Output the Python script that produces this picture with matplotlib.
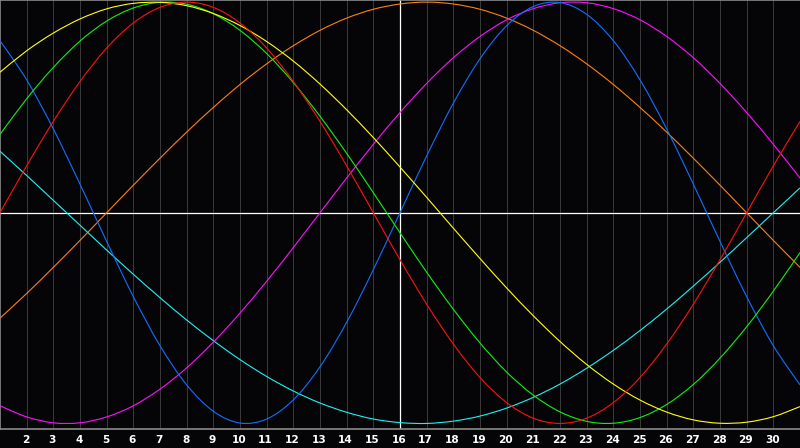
import matplotlib
matplotlib.use("Agg")
import matplotlib.pyplot as plt
import matplotlib.transforms as mtransforms
from matplotlib.path import Path
from matplotlib.patches import PathPatch

# days of the month
days = list(range(1, 32))

# cycle values per day (percent)
physical = [81.7, 63.1, 39.8, 13.6, -13.6, -39.8, -63.1, -81.7, -94.2, -99.8, -97.9,
            -88.8, -73.1, -52.0, -27.0, 0, 27.0, 52.0, 73.1, 88.8, 97.9, 99.8, 94.2,
            81.7, 63.1, 39.8, 13.6, -13.6, -39.8, -63.1, -81.7]
emotional = [0, 22.3, 43.4, 62.3, 78.2, 90.1, 97.5, 100, 97.5, 90.1, 78.2, 62.3, 43.4,
             22.3, 0, -22.3, -43.4, -62.3, -78.2, -90.1, -97.5, -100, -97.5, -90.1,
             -78.2, -62.3, -43.4, -22.3, 0, 22.3, 43.4]
intellectual = [37.2, 54.1, 69.0, 81.5, 91.0, 97.2, 99.9, 99.0, 94.5, 86.6, 75.6, 61.8,
                45.8, 28.2, 9.5, -9.5, -28.2, -45.8, -61.8, -75.6, -86.6, -94.5, -99.0,
                -99.9, -97.2, -91.0, -81.5, -69.0, -54.1, -37.2, -18.9]
intuitive = [-91.6, -96.9, -99.7, -99.7, -96.9, -91.6, -83.7, -73.6, -61.4, -47.6,
             -32.5, -16.5, 0, 16.5, 32.5, 47.6, 61.4, 73.6, 83.7, 91.6, 96.9, 99.7,
             99.7, 96.9, 91.6, 83.7, 73.6, 61.4, 47.6, 32.5, 16.5]
aesthetic = [66.7, 76.9, 85.3, 92.0, 96.8, 99.4, 99.9, 98.3, 94.6, 88.9, 81.3, 72.0,
             61.1, 48.9, 35.7, 21.7, 7.3, -7.3, -21.7, -35.7, -48.9, -61.1, -72.0,
             -81.3, -88.9, -94.6, -98.3, -99.9, -99.4, -96.8, -92.0]
awareness = [-50, -38.3, -25.9, -13.1, 0, 13.1, 25.9, 38.3, 50, 60.9, 70.7, 79.3, 86.6,
             92.4, 96.6, 99.1, 100, 99.1, 96.6, 92.4, 86.6, 79.3, 70.7, 60.9, 50, 38.3,
             25.9, 13.1, 0, -13.1, -25.9]
spiritual = [29.2, 17.7, 5.9, -5.9, -17.7, -29.2, -40.3, -50.9, -60.7, -69.7, -77.7,
             -84.6, -90.3, -94.7, -97.9, -99.6, -100.0, -98.9, -96.5, -92.7, -87.6,
             -81.3, -73.8, -65.3, -55.9, -45.7, -34.8, -23.5, -11.8, 0, 11.8]

today = 16
tick_days = list(range(2, 31))


def smooth_line(ax, xs, ys, color, z=3):
    # catmull-rom style bezier through the daily points
    verts = [(xs[0], ys[0])]
    codes = [Path.MOVETO]
    n = len(xs)
    for i in range(n - 1):
        x0, y0 = (xs[i - 1], ys[i - 1]) if i > 0 else (xs[i], ys[i])
        x1, y1 = xs[i], ys[i]
        x2, y2 = xs[i + 1], ys[i + 1]
        x3, y3 = (xs[i + 2], ys[i + 2]) if i + 2 < n else (xs[i + 1], ys[i + 1])
        c1 = (x1 + (x2 - x0) / 6, y1 + (y2 - y0) / 6)
        c2 = (x2 - (x3 - x1) / 6, y2 - (y3 - y1) / 6)
        verts += [c1, c2, (x2, y2)]
        codes += [Path.CURVE4] * 3
    ax.add_patch(PathPatch(Path(verts, codes), fill=False, edgecolor=color,
                           lw=0.8, zorder=z))


fig = plt.figure(figsize=(8, 4.48), dpi=100, facecolor="#050508")
ax = fig.add_axes([0, 1 - 428.5 / 448, 1, 428.5 / 448])
ax.set_facecolor("#050508")

# vertical day grid
for d in tick_days:
    ax.axvline(d, color="#383838", lw=0.75, zorder=1)

ax.axhline(0, color="white", lw=0.9, zorder=2)
ax.axvline(today, color="white", lw=0.9, zorder=2)

smooth_line(ax, days, awareness, "#ff8010")
smooth_line(ax, days, spiritual, "#20f0f0")
smooth_line(ax, days, intuitive, "#ff10ff")
smooth_line(ax, days, physical, "#1070ff")
smooth_line(ax, days, intellectual, "#10f010")
smooth_line(ax, days, aesthetic, "#ffff10")
smooth_line(ax, days, emotional, "#ff1010", z=4)

ax.set_xlim(1, 31)
ax.set_ylim(-102.4, 101)
ax.set_yticks([])
ax.set_xticks(tick_days)
ax.set_xticklabels([str(d) for d in tick_days], color="white", fontsize=7.6,
                   fontweight="bold", family="DejaVu Sans")
ax.tick_params(axis="x", length=0, pad=5)
offset = mtransforms.ScaledTranslation(-0.01, 0, fig.dpi_scale_trans)
for lbl in ax.get_xticklabels():
    lbl.set_transform(lbl.get_transform() + offset)

for side in ["left", "top", "bottom"]:
    ax.spines[side].set_color("#8a8a8a")
    ax.spines[side].set_linewidth(1.2)
ax.spines["right"].set_visible(False)

fig.savefig("out.png", dpi=100, facecolor=fig.get_facecolor())
